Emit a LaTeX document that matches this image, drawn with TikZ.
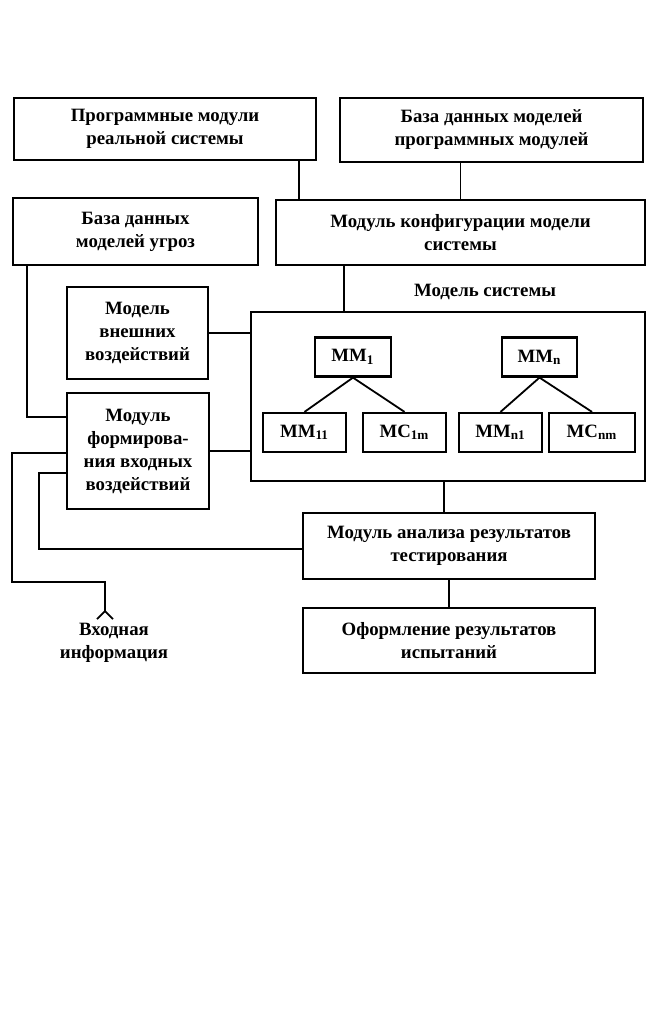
\documentclass[tikz,border=0pt]{standalone}
\usepackage{fontspec}
\setmainfont{Liberation Serif}
\usetikzlibrary{arrows.meta}

\tikzset{
	blk/.style={draw, line width=1.1pt, align=center, inner sep=0pt,
		font=\bfseries\fontsize{9.4}{11.5}\selectfont},
	sz/.style 2 args={minimum width=#1*0.5pt, minimum height=#2*0.5pt},
	lbl/.style={align=center, inner sep=0pt,
		font=\bfseries\fontsize{9.4}{11.5}\selectfont},
	lnk/.style={line width=0.9pt},
}

\begin{document}
\begin{tikzpicture}[x=0.5pt,y=-0.5pt]
		\useasboundingbox (0,0) rectangle (649,1010);
		% upper row
		\node[blk, sz={302}{62}] (prog) at (165,129) {Программные модули\\реальной системы};
		\node[blk, sz={303}{64}] (bdpm) at (491.5,130) {База данных моделей\\программных модулей};
		\node[blk, sz={245}{67}] (bdug) at (135.5,231.5) {База данных\\моделей угроз};
		\node[blk, sz={369}{65}] (conf) at (460.5,232.5) {Модуль конфигурации модели\\системы};
		% system model
		\node[lbl] (syslbl) at (485,292) {Модель системы};
		\node[blk, sz={394}{169}] (sys) at (448,396.5) {};
		\node[blk, sz={76}{39}] (mm1) at (353,357) {ММ\textsubscript{1}};
		\node[blk, sz={75}{39}] (mmn) at (539.5,357) {ММ\textsubscript{n}};
		\node[blk, sz={83}{39}] (mm11) at (304.5,432.5) {ММ\textsubscript{11}};
		\node[blk, sz={83}{39}] (mc1m) at (404.5,432.5) {МС\textsubscript{1m}};
		\node[blk, sz={83}{39}] (mmn1) at (500.5,432.5) {ММ\textsubscript{n1}};
		\node[blk, sz={86}{39}] (mcnm) at (592,432.5) {МС\textsubscript{nm}};
		% left column
		\node[blk, sz={141}{92}] (vnesh) at (137.5,333) {Модель\\внешних\\воздействий};
		\node[blk, sz={142}{116}] (form) at (138,451) {Модуль\\формирова-\\ния входных\\воздействий};
		% results
		\node[blk, sz={292}{66}] (anal) at (449,546) {Модуль анализа результатов\\тестирования};
		\node[blk, sz={292}{65}] (oform) at (449,640.5) {Оформление результатов\\испытаний};
		\coordinate (lo) at (12,582);
		\coordinate (il) at (39,549);
		\coordinate (inend) at (105,620);
		\node[lbl, anchor=north] (inp) at (114,623) {Входная\\информация};
		% links
		\draw[lnk] (prog.south east) ++(-18,0) coordinate (p1) -- (p1 |- conf.north);
		\draw[lnk] (conf.north) -- (conf.north |- bdpm.south);
		\draw[lnk] (conf.south west) ++(69,0) coordinate (c1) -- (c1 |- sys.north);
		\draw[lnk] (bdug.south west) ++(15,0) |- ([yshift=17pt]form.west);
		\draw[lnk] (vnesh.east) -- (vnesh.east -| sys.west);
		\draw[lnk] (form.east) -- (form.east -| sys.west);
		\draw[lnk] (mm1.south) -- (mm11.north);
		\draw[lnk] (mm1.south) -- (mc1m.north);
		\draw[lnk] (mmn.south) -- (mmn1.north);
		\draw[lnk] (mmn.south) -- (mcnm.north);
		\draw[lnk] (sys.south) ++(-4,0) coordinate (s1) -- (s1 |- anal.north);
		\draw[lnk] (anal.south) -- (oform.north);
		\draw[lnk] ([yshift=-11pt]form.west) -| (il) -- (il -| anal.west);
		\draw[lnk, -{Straight Barb[reversed, length=4pt, width=8pt]}] ([yshift=-1pt]form.west) -| (lo) -| (inend);
	\end{tikzpicture}
\end{document}
